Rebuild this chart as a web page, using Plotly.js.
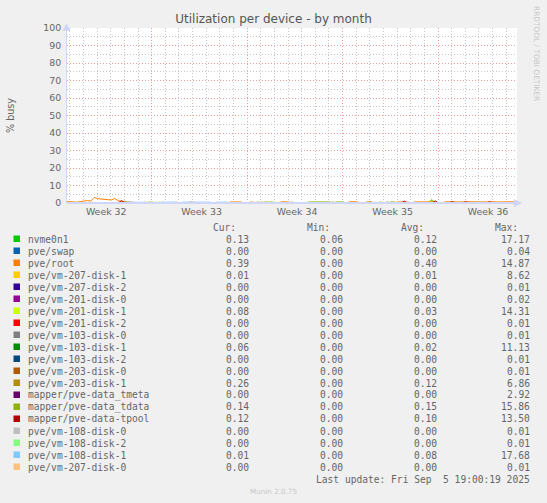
<!DOCTYPE html>
<html>
<head>
<meta charset="utf-8">
<script src="https://cdn.plot.ly/plotly-3.0.1.min.js"></script>
<style>
  html, body { margin: 0; padding: 0; background: #F0F0F0; }
  #chart { width: 547px; height: 503px; }
</style>
</head>
<body>
<div id="chart"></div>
<script>
// ---------------- DATA ----------------
const chartTitle = 'Utilization per device - by month';
const yTitle = '% busy';
const startTime = Date.UTC(2025, 7, 3, 19, 0, 0);   // window start (33 days before last update)
const endTime = Date.UTC(2025, 8, 5, 19, 0, 0);     // last update
const stepHours = 6;                                // sample spacing of the arrays below

const weekLabels = ['Week 32', 'Week 33', 'Week 34', 'Week 35', 'Week 36'];
const weekCenters = ['2025-08-06 16:00', '2025-08-13 16:00', '2025-08-20 16:00', '2025-08-27 16:00', '2025-09-03 16:00'];
const weekStarts = ['2025-08-10 00:00', '2025-08-17 00:00', '2025-08-24 00:00', '2025-08-31 00:00'];
const yTicks = [0, 10, 20, 30, 40, 50, 60, 70, 80, 90, 100];

const seriesNames = [
  'nvme0n1', 'pve/swap', 'pve/root', 'pve/vm-207-disk-1', 'pve/vm-207-disk-2',
  'pve/vm-201-disk-0', 'pve/vm-201-disk-1', 'pve/vm-201-disk-2', 'pve/vm-103-disk-0',
  'pve/vm-103-disk-1', 'pve/vm-103-disk-2', 'pve/vm-203-disk-0', 'pve/vm-203-disk-1',
  'mapper/pve-data_tmeta', 'mapper/pve-data_tdata', 'mapper/pve-data-tpool',
  'pve/vm-108-disk-0', 'pve/vm-108-disk-2', 'pve/vm-108-disk-1', 'pve/vm-207-disk-0'
];
const seriesColors = [
  '#00CC00', '#0066B3', '#FF8000', '#FFCC00', '#330099',
  '#990099', '#CCFF00', '#FF0000', '#808080',
  '#008F00', '#00487D', '#B35A00', '#B38F00',
  '#6B006B', '#8FB300', '#B30000',
  '#BEBEBE', '#80FF80', '#80C9FF', '#FFC080'
];
const curVals = [0.13, 0.00, 0.39, 0.01, 0.00, 0.00, 0.08, 0.00, 0.00, 0.06, 0.00, 0.00, 0.26, 0.00, 0.14, 0.12, 0.00, 0.00, 0.01, 0.00];
const minVals = [0.06, 0.00, 0.00, 0.00, 0.00, 0.00, 0.00, 0.00, 0.00, 0.00, 0.00, 0.00, 0.00, 0.00, 0.00, 0.00, 0.00, 0.00, 0.00, 0.00];
const avgVals = [0.12, 0.00, 0.40, 0.01, 0.00, 0.00, 0.03, 0.00, 0.00, 0.02, 0.00, 0.00, 0.12, 0.00, 0.15, 0.10, 0.00, 0.00, 0.08, 0.00];
const maxVals = [17.17, 0.04, 14.87, 8.62, 0.01, 0.02, 14.31, 0.01, 0.01, 11.13, 0.01, 0.01, 6.86, 2.92, 15.86, 13.50, 0.01, 0.01, 17.68, 0.01];

// values every 6 hours, 133 samples each (rows of 10)
const nvme0n1 = [
  0.1,0.1,0.1,0.1,0.1,0.1,0.1,0.1,0.1,0.1,
  0.1,0.1,0.1,0.1,0.1,0.1,0.1,0.1,0.1,0.1,
  0.1,0.1,0.1,0.1,0.1,0.1,0.1,0.1,0.1,0.1,
  0.1,0.1,0.1,0.1,0.1,0.1,0.1,0.1,0.1,0.1,
  0.1,0.1,0.1,0.1,0.1,0.1,0.1,0.1,0.1,0.1,
  0.1,0.1,0.1,0.1,0.1,0.1,0.1,0.1,0.1,0.1,
  0.1,0.1,0.1,0.1,0.1,0.1,0.1,0.1,0.1,0.1,
  0.1,0.1,0.1,0.1,0.1,0.1,0.1,0.1,0.1,0.1,
  0.1,0.1,0.1,0.1,0.1,0.1,0.1,0.1,0.1,0.1,
  0.1,0.1,0.1,0.1,0.1,0.1,0.1,0.1,0.1,0.1,
  0.1,0.1,0.1,0.1,0.1,0.1,0.1,1.9,0.1,0.1,
  0.1,0.1,0.1,0.1,0.1,0.1,0.1,0.1,0.1,0.1,
  0.1,0.1,0.1,0.1,0.1,0.1,0.1,0.1,0.1,0.1,
  0.1,0.1,0.1
];
const pveSwap = [
  0,0,0,0,0,0,0,0,0,0, 0,0,0,0,0,0,0,0,0,0, 0,0,0,0,0,0,0,0,0,0, 0,0,0,0,0,0,0,0,0,0,
  0,0,0,0,0,0,0,0,0,0, 0,0,0,0,0,0,0,0,0,0, 0,0,0,0,0,0,0,0,0,0, 0,0,0,0,0,0,0,0,0,0,
  0,0,0,0,0,0,0,0,0,0, 0,0,0,0,0,0,0,0,0,0, 0,0,0,0,0,0,0,0,0,0, 0,0,0,0,0,0,0,0,0,0,
  0,0,0,0,0,0,0,0,0,0, 0,0,0
];
const pveRoot = [
  0.8,0.6,0.7,0.5,0.8,1.0,1.4,1.1,3.2,2.5,
  2.3,2.4,2.1,1.7,2.6,1.3,0.9,0.8,0.6,0.4,
  0.5,0,0,0.5,0,0.4,0,0,0.5,0,
  0,0,0.5,0,0,0,0.5,0.5,0,0,
  0,0.4,0,0,0,0,0,0,0.6,0.7,
  0.6,0.6,0,0,0.6,0.5,0,0.6,0,0,
  0,0,0,0.7,0.7,0.6,0,0,0,0,
  0,0,0,0,0,0,0,0,0,0,
  0,0,0,0.7,0.6,0.7,0,0,0.6,0.6,
  0,0,0,0,0,0,0,0.6,0.7,0.6,
  0,0,0.6,0.6,0.7,0.6,0.7,0.8,0.7,0,
  0,0.7,0.6,0.7,0.7,0.6,0.7,0.8,0.7,0.6,
  0.7,0.6,0.7,0.7,0.8,0.7,0.6,0.7,0.6,0.7,
  0.6,0.7,0.6
];
const vm207disk1 = [
  0,0,0,0,0,0,0,0,0,0, 0,0,0,0,0,0,0,0,0,0, 0,0,0,0,0,0,0,0,0,0, 0,0,0,0,0,0,0,0,0,0,
  0,0,0,0,0,0,0,0,0,0, 0,0,0,0,0,0,0,0,0,0, 0,0,0,0,0,0,0,0,0,0, 0,0,0,0,0,0,0,0,0,0,
  0,0,0,0,0,0,0,0,0,0, 0,0,0,0,0,0,0,0,0,0, 0,0,0,0,0,0,0,0,0,0, 0,0,0,0,0,0,0,0,0,0,
  0,0,0,0,0,0,0,0,0,0, 0,0,0
];
const vm207disk2 = [
  0,0,0,0,0,0,0,0,0,0, 0,0,0,0,0,0,0,0,0,0, 0,0,0,0,0,0,0,0,0,0, 0,0,0,0,0,0,0,0,0,0,
  0,0,0,0,0,0,0,0,0,0, 0,0,0,0,0,0,0,0,0,0, 0,0,0,0,0,0,0,0,0,0, 0,0,0,0,0,0,0,0,0,0,
  0,0,0,0,0,0,0,0,0,0, 0,0,0,0,0,0,0,0,0,0, 0,0,0,0,0,0,0,0,0,0, 0,0,0,0,0,0,0,0,0,0,
  0,0,0,0,0,0,0,0,0,0, 0,0,0
];
const vm201disk0 = [
  0,0,0,0,0,0,0,0,0,0, 0,0,0,0,0,0,0,0,0,0, 0,0,0,0,0,0,0,0,0,0, 0,0,0,0,0,0,0,0,0,0,
  0,0,0,0,0,0,0,0,0,0, 0,0,0,0,0,0,0,0,0,0, 0,0,0,0,0,0,0,0,0,0, 0,0,0,0,0,0,0,0,0,0,
  0,0,0,0,0,0,0,0,0,0, 0,0,0,0,0,0,0,0,0,0, 0,0,0,0,0,0,0,0,0,0, 0,0,0,0,0,0,0,0,0,0,
  0,0,0,0,0,0,0,0,0,0, 0,0,0
];
const vm201disk1 = [
  0,0,0,0,0,0,0,0,0,0, 0,0,0,0,0,0,0,0,0,0,
  0,0,0,0,0,0,0,0.6,0,0, 0,0,0,0,0,0,0,0,0,0,
  0,0,0,0,0,0,0,0,0,0, 0,0,0,0,0,0,0,0,0,0,
  0,0.6,0,0,0,0,0,0,0,0, 0,0,0,0,0,0,0,0,0,0,
  0,0,0,0,0,0,0,0,0,0, 0,0,0,0,0,0,0,0,0,0,
  0,0,0,0,0,0,0,1.8,0,0, 0,0,0,0,0,0,0,0,0,0,
  0,0,0,0,0,0,0,0,0,0, 0,0,0
];
const vm201disk2 = [
  0,0,0,0,0,0,0,0,0,0, 0,0,0,0,0,0,0,0,0,0, 0,0,0,0,0,0,0,0,0,0, 0,0,0,0,0,0,0,0,0,0,
  0,0,0,0,0,0,0,0,0,0, 0,0,0,0,0,0,0,0,0,0, 0,0,0,0,0,0,0,0,0,0, 0,0,0,0,0,0,0,0,0,0,
  0,0,0,0,0,0,0,0,0,0, 0,0,0,0,0,0,0,0,0,0, 0,0,0,0,0,0,0,0,0,0, 0,0,0,0,0,0,0,0,0,0,
  0,0,0,0,0,0,0,0,0,0, 0,0,0
];
const vm103disk0 = [
  0,0,0,0,0,0,0,0,0,0, 0,0,0,0,0,0,0,0,0,0, 0,0,0,0,0,0,0,0,0,0, 0,0,0,0,0,0,0,0,0,0,
  0,0,0,0,0,0,0,0,0,0, 0,0,0,0,0,0,0,0,0,0, 0,0,0,0,0,0,0,0,0,0, 0,0,0,0,0,0,0,0,0,0,
  0,0,0,0,0,0,0,0,0,0, 0,0,0,0,0,0,0,0,0,0, 0,0,0,0,0,0,0,0,0,0, 0,0,0,0,0,0,0,0,0,0,
  0,0,0,0,0,0,0,0,0,0, 0,0,0
];
const vm103disk1 = [
  0,0,0,0,0,0,0,0,0,0, 0,0,0,0,0,0,0,0,0,0, 0,0,0,0,0,0,0,0,0,0, 0,0,0,0,0,0,0,0,0,0,
  0,0,0,0,0,0,0,0,0,0, 0,0,0,0,0,0,0,0,0,0, 0,0,0,0,0,0,0.5,0,0,0, 0,0,0,0,0,0,0,0,0,0,
  0,0,0,0,0,0,0,0,0,0, 0,0,0,0,0,0,0,0,0,0, 0.5,0,0,0,0,0,0,0,0,0, 0,0,0,0,0,0,0,0,0,0,
  0,0,0,0,0,0,0,0,0,0, 0,0,0
];
const vm103disk2 = [
  0,0,0,0,0,0,0,0,0,0, 0,0,0,0,0,0,0,0,0,0, 0,0,0,0,0,0,0,0,0,0, 0,0,0,0,0,0,0,0,0,0,
  0,0,0,0,0,0,0,0,0,0, 0,0,0,0,0,0,0,0,0,0, 0,0,0,0,0,0,0,0,0,0, 0,0,0,0,0,0,0,0,0,0,
  0,0,0,0,0,0,0,0,0,0, 0,0,0,0,0,0,0,0,0,0, 0,0,0,0,0,0,0,0,0,0, 0,0,0,0,0,0,0,0,0,0,
  0,0,0,0,0,0,0,0,0,0, 0,0,0
];
const vm203disk0 = [
  0,0,0,0,0,0,0,0,0,0, 0,0,0,0,0,0,0,0,0,0, 0,0,0,0,0,0,0,0,0,0, 0,0,0,0,0,0,0,0,0,0,
  0,0,0,0,0,0,0,0,0,0, 0,0,0,0,0,0,0,0,0,0, 0,0,0,0,0,0,0,0,0,0, 0,0,0,0,0,0,0,0,0,0,
  0,0,0,0,0,0,0,0,0,0, 0,0,0,0,0,0,0,0,0,0, 0,0,0,0,0,0,0,0,0,0, 0,0,0,0,0,0,0,0,0,0,
  0,0,0,0,0,0,0,0,0,0, 0,0,0
];
const vm203disk1 = [
  0,0,0,0,0,0,0,0,0,0, 0,0,0,0,0,0,0,1.1,0,0,
  0,0,0,0,0,0,0,0,0,0, 0,0,0,0,0,0,0,0,0,0,
  0,0,0,0,0,0,0,0,0,0, 0,0,0,0,0,0,0,0,0,0,
  0.6,0,0,0,0,0,0,0,0,0, 0,0,0,0,0,0,0,0,0.6,0,
  0,0,0,0,0,0,0,0,0,0.7, 0,0,0,0,0.6,0,0,0,0,0,
  0,0,0,0,0,0,0,0,0,0, 0,0,0,0,0,0,0,0,0,0,
  0,0,0,0,0,0,0,0,0,0, 0,0,0
];
const dataTmeta = [
  0,0,0,0,0,0,0,0,0,0, 0,0,0,0,0,0,0,0,0,0, 0,0,0,0,0,0,0,0,0,0, 0,0,0,0,0,0,0,0,0,0,
  0,0,0,0,0,0,0,0,0,0, 0,0,0,0,0,0,0,0,0,0, 0,0,0,0,0,0,0,0,0,0, 0,0,0,0,0,0,0,0,0,0,
  0,0,0,0,0,0,0,0,0,0, 0,0,0,0,0,0,0,0,0,0, 0,0,0,0,0,0,0,0,0,0, 0,0,0,0,0,0,0,0,0,0,
  0,0,0,0,0,0,0,0,0,0, 0,0,0
];
const dataTdata = [
  0,0,0,0,0,0,0,0,0,0, 0,0,0,0,0,0,0,0.5,0,0,
  0,0,0,0,0.5,0.5,0,0,0,0, 0,0,0,0,0,0,0,0,0,0,
  0,0,0,0,0,0,0,0,0,0, 0,0,0,0,0,0,0.6,0,0.6,0.5,
  0,0,0,0,0,0,0,0,0,0, 0,0.6,0.6,0.6,0.6,0.7,0.6,0.6,0,0.6,
  0.6,0.6,0,0,0,0,0,0,0,0, 0,0,0.6,0,0,0.6,0.6,0,0,0,
  0,0,0,0,0,0,0,1.6,0,0, 0,0,0,0,0.5,0,0,0,0,0,
  0,0.5,0,0,0,0,0,0,0,0, 0,0,0
];
const dataTpool = [
  0,0,0,0,0,0,0,0,0,0, 0,0,0,0,0,0,1.4,0,0,0,
  0,0,0,0,0,0,0,0,0,0, 0,0,0,0,0,0,0,0,0,0,
  0,0,0,0,0,0,0,0,0,0, 0,0,0,0,0,0,0,0,0,0,
  0,0,0,0,0,0,0,0,0,0, 0,0,0,0,0,0,0,0,0,0,
  0,0,0,0,0,0,0,0,0,0, 0,0,0,0,0,0,0,0,0,1.1,
  0,0,0,0,0,0,0,0,1.2,0, 0,0,0,0.8,0,0,0,0.7,0,0,
  0,0,0,0,0.7,0,0,0,0,0, 0,0,0
];
const vm108disk0 = [
  0,0,0,0,0,0,0,0,0,0, 0,0,0,0,0,0,0,0,0,0, 0,0,0,0,0,0,0,0,0,0, 0,0,0,0,0,0,0,0,0,0,
  0,0,0,0,0,0,0,0,0,0, 0,0,0,0,0,0,0,0,0,0, 0,0,0,0,0,0,0,0,0,0, 0,0,0,0,0,0,0,0,0,0,
  0,0,0,0,0,0,0,0,0,0, 0,0,0,0,0,0,0,0,0,0, 0,0,0,0,0,0,0,0,0,0, 0,0,0,0,0,0,0,0,0,0,
  0,0,0,0,0,0,0,0,0,0, 0,0,0
];
const vm108disk2 = [
  0,0,0,0,0,0,0,0,0,0, 0,0,0,0,0,0,0,0,0,0, 0,0,0,0,0,0,0,0,0,0, 0,0,0,0,0,0,0,0,0,0,
  0,0,0,0,0,0,0,0,0,0, 0,0,0,0,0,0,0,0,0,0, 0,0,0,0,0,0,0,0,0,0, 0,0,0,0,0,0,0,0,0,0,
  0,0,0,0,0,0,0,0,0,0, 0,0,0,0,0,0,0,0,0,0, 0,0,0,0,0,0,0,0,0,0, 0,0,0,0,0,0,0,0,0,0,
  0,0,0,0,0,0,0,0,0,0, 0,0,0
];
const vm108disk1 = [
  0,0,0,0,0,0,0,0,0,0, 0,0,0,0,0,0,0,0.5,0.5,0.5,
  0.5,0.5,0.5,0.4,0,0,0.5,0,0.5,0.5, 0.5,0.5,0.5,0,0.5,0.5,0.5,0.5,0.5,0.5,
  0.5,0.5,0.5,0,0.5,0.5,0.5,0.5,0,0, 0,0,0,0,0,0,0,0,0,0,
  0,0,0,0,0,0,0,0,0,0, 0,0,0,0,0,0,0,0,0,0,
  0,0,0,0,0,0,0,0,0,0, 0,0,0,0,0,0,0,0,0,0,
  0,0,0,0,0,0,0,0,0,0, 0,0,0,0,0,0,0,0,0,0,
  0,0,0,0,0,0,0,0,0,0, 0,0,0
];
const vm207disk0 = [
  0,0,0,0,0,0,0,0,0,0, 0,0,0,0,0,0,0,0,0,0, 0,0,0,0,0,0,0,0,0,0, 0,0,0,0,0,0,0,0,0,0,
  0,0,0,0,0,0,0,0,0,0, 0,0,0,0,0,0,0,0,0,0, 0,0,0,0,0,0,0,0,0,0, 0,0,0,0,0,0,0,0,0,0,
  0,0,0,0,0,0,0,0,0,0, 0,0,0,0,0,0,0,0,0,0, 0,0,0,0,0,0,0,0,0,0, 0,0,0,0,0,0,0,0,0,0,
  0,0,0,0,0,0,0,0,0,0, 0,0,0
];

const seriesValues = [
  nvme0n1, pveSwap, pveRoot, vm207disk1, vm207disk2,
  vm201disk0, vm201disk1, vm201disk2, vm103disk0,
  vm103disk1, vm103disk2, vm203disk0, vm203disk1,
  dataTmeta, dataTdata, dataTpool,
  vm108disk0, vm108disk2, vm108disk1, vm207disk0
];

// ---------------- BUILD ----------------
function fmtDate(ms) {
  return new Date(ms).toISOString().replace('T', ' ').slice(0, 19);
}
function timesFor(arr) {
  return arr.map((_, i) => fmtDate(startTime + i * stepHours * 3600000));
}
const xRange = [fmtDate(startTime), fmtDate(endTime)];

// daily grid positions (midnights inside the window), week boundaries excluded (they get the red grid)
const weekStartMs = weekStarts.map(s => Date.parse(s.replace(' ', 'T') + ':00Z'));
const dayGrid = [];
for (let t = Date.UTC(2025, 7, 4); t < endTime; t += 86400000) {
  if (weekStartMs.indexOf(t) === -1) dayGrid.push(fmtDate(t));
}

const lastIdx = seriesValues.length - 1;
const traces = seriesValues.map((vals, k) => ({
  type: 'scatter', mode: 'lines',
  x: timesFor(vals), y: vals,
  // the last series is drawn through the overlaid week-grid axis (same range) so that axis gets rendered
  xaxis: k === lastIdx ? 'x2' : 'x',
  name: seriesNames[k],
  line: { color: seriesColors[k], width: 1 },
  showlegend: false, hoverinfo: 'skip'
}));

// plot-area geometry in pixels (for legend text placement)
const W = 547, H = 503;
const M = { l: 67, r: 30, t: 28, b: 300 };
const PW = W - M.l - M.r, PH = H - M.t - M.b;
const px = x => (x - M.l) / PW;
const py = y => (H - M.b - y) / PH;

const FONT_COLOR = '#666666';
const MONO = 'DejaVu Sans Mono, monospace';
const SANS = 'DejaVu Sans, sans-serif';
const legendSize = 9.6;

const annotations = [];
const shapes = [];
const colRight = [251, 345, 439, 532];
const headRight = [238, 332, 426, 520];
const headers = ['Cur:', 'Min:', 'Avg:', 'Max:'];
const headerY = 227;
headers.forEach((h, c) => annotations.push({
  xref: 'paper', yref: 'paper', x: px(headRight[c]), y: py(headerY),
  xanchor: 'right', yanchor: 'middle', text: h, showarrow: false,
  font: { family: MONO, size: legendSize, color: FONT_COLOR }
}));
const cols = [curVals, minVals, avgVals, maxVals];
seriesNames.forEach((name, k) => {
  const yy = 239 + k * 12;
  annotations.push({
    xref: 'paper', yref: 'paper', x: px(26), y: py(yy),
    xanchor: 'left', yanchor: 'middle', text: name, showarrow: false,
    font: { family: MONO, size: legendSize, color: FONT_COLOR }
  });
  cols.forEach((arr, c) => annotations.push({
    xref: 'paper', yref: 'paper', x: px(colRight[c]), y: py(yy),
    xanchor: 'right', yanchor: 'middle', text: arr[k].toFixed(2), showarrow: false,
    font: { family: MONO, size: legendSize, color: FONT_COLOR }
  }));
  shapes.push({
    type: 'rect', xref: 'paper', yref: 'paper', layer: 'above',
    x0: px(13.5), x1: px(20), y0: py(yy + 3), y1: py(yy - 3.5),
    fillcolor: seriesColors[k], line: { width: 0 }
  });
});
annotations.push({
  xref: 'paper', yref: 'paper', x: px(532), y: py(479),
  xanchor: 'right', yanchor: 'middle', showarrow: false,
  text: 'Last update: Fri Sep\u00a0\u00a05 19:00:19 2025',
  font: { family: MONO, size: legendSize, color: FONT_COLOR }
});
annotations.push({
  xref: 'paper', yref: 'paper', x: px(273.5), y: py(492),
  xanchor: 'center', yanchor: 'middle', showarrow: false,
  text: 'Munin 2.0.75',
  font: { family: SANS, size: 7.2, color: '#C8C8C8' }
});
annotations.push({
  xref: 'paper', yref: 'paper', x: px(537), y: py(53),
  xanchor: 'center', yanchor: 'middle', showarrow: false, textangle: 90,
  text: 'RRDTOOL / TOBI OETIKER',
  font: { family: SANS, size: 7.4, color: '#C8C8C8' }
});
// axis arrows
annotations.push({
  xref: 'paper', yref: 'paper', x: px(66.5), y: py(23), ax: 0, ay: 8,
  text: '', showarrow: true, arrowhead: 2, arrowsize: 1.6, arrowwidth: 1, arrowcolor: '#CFD6F8'
});
annotations.push({
  xref: 'paper', yref: 'paper', x: px(522), y: py(203), ax: -8, ay: 0,
  text: '', showarrow: true, arrowhead: 2, arrowsize: 1.6, arrowwidth: 1, arrowcolor: '#CFD6F8'
});

const MAJOR = '#EE9C9C';
const MINOR = '#C6C6C6';
const DASH = '1px,2px';

const layout = {
  width: W, height: H,
  margin: M,
  paper_bgcolor: '#F0F0F0', plot_bgcolor: '#FFFFFF',
  font: { family: SANS, size: 9.4, color: FONT_COLOR },
  title: {
    text: chartTitle, x: 0.5, xref: 'container', xanchor: 'center',
    y: 1 - 18.5 / H, yref: 'container', yanchor: 'middle',
    font: { family: SANS, size: 12, color: '#555555' }
  },
  // main time axis: week labels centred in each week, gray grid at the other midnights
  xaxis: {
    type: 'date', range: xRange, fixedrange: true,
    anchor: 'free', position: 0, layer: 'above traces',
    tickmode: 'array', tickvals: weekCenters, ticktext: weekLabels,
    ticks: '', showgrid: false,
    tickfont: { family: SANS, size: 9.4, color: FONT_COLOR },
    minor: { tickmode: 'array', tickvals: dayGrid, showgrid: true, gridcolor: MINOR, griddash: DASH, ticks: '' },
    showline: true, linecolor: '#CFD6F8', linewidth: 2, zeroline: false
  },
  // overlaid axis drawing the red dotted week-boundary grid
  xaxis2: {
    type: 'date', range: xRange, overlaying: 'x', anchor: 'y', side: 'bottom', fixedrange: true,
    tickmode: 'array', tickvals: weekStarts, showticklabels: false,
    showgrid: true, gridcolor: MAJOR, griddash: DASH, gridwidth: 1,
    showline: false, zeroline: false, ticks: ''
  },
  yaxis: {
    range: [0, 100], fixedrange: true,
    tickmode: 'array', tickvals: yTicks,
    ticks: '', ticklabelstandoff: 3,
    tickfont: { family: SANS, size: 9.4, color: FONT_COLOR },
    showgrid: true, gridcolor: MAJOR, griddash: DASH, gridwidth: 1,
    minor: { dtick: 5, showgrid: true, gridcolor: MINOR, griddash: DASH, ticks: '' },
    showline: true, linecolor: '#CFD6F8', linewidth: 1, zeroline: false,
    title: { text: yTitle, standoff: 26, font: { family: SANS, size: 9.6, color: FONT_COLOR } }
  },
  annotations: annotations,
  shapes: shapes
};

Plotly.newPlot('chart', traces, layout, { staticPlot: true, displayModeBar: false });
</script>
</body>
</html>
